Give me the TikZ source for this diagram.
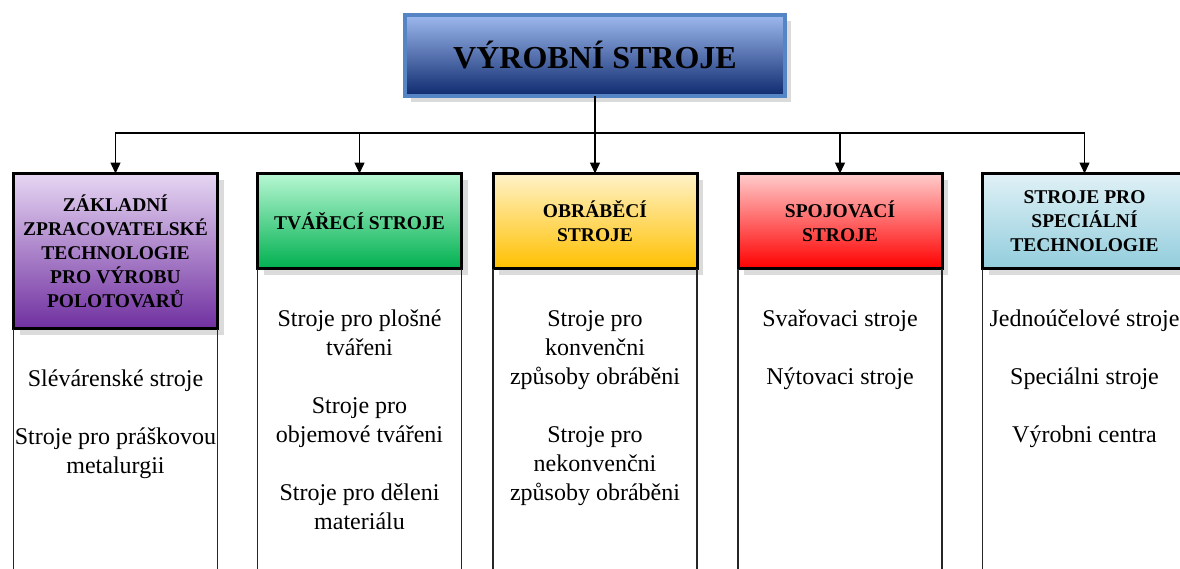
\documentclass[tikz,border=0pt]{standalone}
\usepackage{fontspec}
\setmainfont{Liberation Serif}
\usetikzlibrary{arrows.meta,positioning,shadows}
\definecolor{titletop}{HTML}{9DB9EE}
\definecolor{titlebot}{HTML}{0F2A6E}
\definecolor{titleline}{HTML}{5585C5}
\definecolor{purtop}{HTML}{E6D6F3}
\definecolor{purbot}{HTML}{7030A0}
\definecolor{grntop}{HTML}{B7F7D3}
\definecolor{grnbot}{HTML}{00B050}
\definecolor{yeltop}{HTML}{FFF2C8}
\definecolor{yelbot}{HTML}{FFC000}
\definecolor{redtop}{HTML}{FFCCCC}
\definecolor{redbot}{HTML}{FF0000}
\definecolor{blutop}{HTML}{E0F1F6}
\definecolor{blubot}{HTML}{92CDDC}

\begin{document}
\begin{tikzpicture}[x=1pt, y=-1pt, >={Triangle[width=10pt,length=11pt]}, node distance=37pt]
\useasboundingbox (0,0) rectangle (1180,568);
\fill[white] (0,0) rectangle (1180,568);
\clip (0,0) rectangle (1180,568);
\tikzset{
  shade/.style={drop shadow={shadow xshift=6pt, shadow yshift=-6pt, fill=black!28}},
  titlebox/.style={shade, draw=titleline, line width=4pt, outer sep=0pt, minimum width=380pt, minimum height=81pt, top color=titletop, bottom color=titlebot, font=\fontsize{32}{38}\selectfont\bfseries},
  head/.style={shade, draw=black, line width=3pt, outer sep=0pt, minimum width=204pt, minimum height=95pt, align=center, inner sep=2pt, anchor=north, font=\fontsize{19.5}{24}\selectfont\bfseries},
  items/.style={align=center, inner sep=0pt, anchor=north, font=\fontsize{24}{29}\selectfont},
  col/.style={line width=1.1pt, black!85},
  link/.style={->, line width=1.4pt}
}
\node[titlebox] (title) at (595,55.5) {VÝROBNÍ STROJE};
\node[head, minimum height=155pt, top color=purtop, bottom color=purbot] (zakl) at (115.5,173.5) {ZÁKLADNÍ\\ZPRACOVATELSKÉ\\TECHNOLOGIE\\PRO VÝROBU\\POLOTOVARŮ};
\node[head, top color=grntop, bottom color=grnbot] (tvar) at (359.5,173.5) {TVÁŘECÍ STROJE};
\node[head, top color=yeltop, bottom color=yelbot] (obrab) at (595,173.5) {OBRÁBĚCÍ\\STROJE};
\node[head, top color=redtop, bottom color=redbot] (spoj) at (840,173.5) {SPOJOVACÍ\\STROJE};
\node[head, top color=blutop, bottom color=blubot] (spec) at (1084.5,173.5) {STROJE PRO\\SPECIÁLNÍ\\TECHNOLOGIE};
\coordinate (bus) at (595,133);
\coordinate (bot) at (0,572);
\foreach \h in {zakl,tvar,obrab,spoj,spec}{\draw[link] (title.south) -- (bus) -| (\h.north);}
\foreach \h in {zakl,tvar,obrab,spoj,spec}{\draw[col] (\h.south west) -- (\h.south west |- bot) (\h.south east) -- (\h.south east |- bot);}
\node[items, below=37pt of zakl] (zakl-t) {\strut Slévárenské stroje\\[29pt]Stroje pro práškovou\\metalurgii};
\node[items, below=37pt of tvar] (tvar-t) {\strut Stroje pro plošné\\tvářeni\\[29pt]Stroje pro\\objemové tvářeni\\[29pt]Stroje pro děleni\\materiálu};
\node[items, below=37pt of obrab] (obrab-t) {\strut Stroje pro\\konvenčni\\způsoby obráběni\\[29pt]Stroje pro\\nekonvenčni\\způsoby obráběni};
\node[items, below=37pt of spoj] (spoj-t) {\strut Svařovaci stroje\\[29pt]Nýtovaci stroje};
\node[items, below=37pt of spec] (spec-t) {\strut Jednoúčelové stroje\\[29pt]Speciálni stroje\\[29pt]Výrobni centra};
\end{tikzpicture}
\end{document}
